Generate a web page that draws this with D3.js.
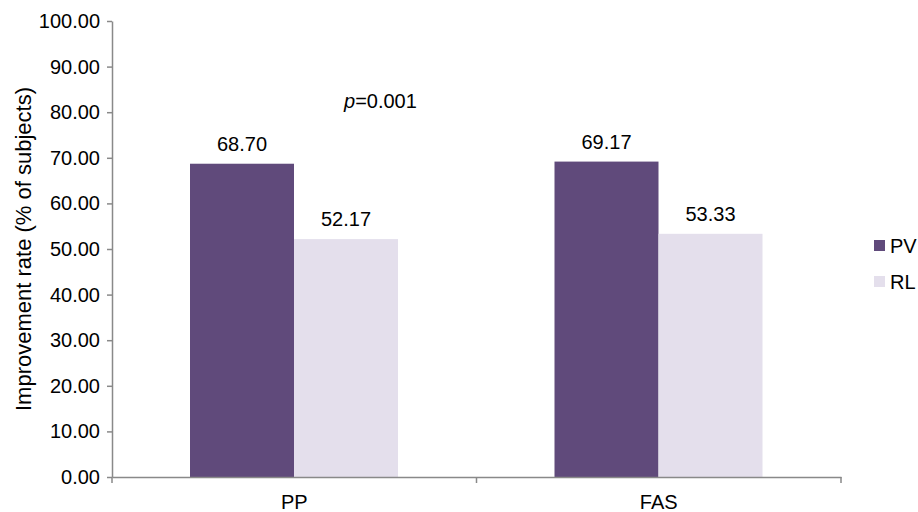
<!DOCTYPE html>
<html>
<head>
<meta charset="utf-8">
<script src="https://cdn.jsdelivr.net/npm/d3@7"></script>
<style>
  html, body { margin: 0; padding: 0; background: #fff; }
  svg text { font-family: "Liberation Sans", Arial, sans-serif; fill: #000; }
</style>
</head>
<body>
<svg id="chart" width="918" height="512"></svg>
<script>
const categories = ["PP", "FAS"];
const seriesNames = ["PV", "RL"];
const pvValues = [68.70, 69.17];
const rlValues = [52.17, 53.33];
const yTicks = [0, 10, 20, 30, 40, 50, 60, 70, 80, 90, 100];
const yTitle = "Improvement rate (% of subjects)";
const pLabel = ["p", "=0.001"];
const colors = { PV: "#604a7b", RL: "#e4dfec" };
const axisColor = "#898989";

const seriesValues = { PV: pvValues, RL: rlValues };
const svg = d3.select("#chart");

const y = d3.scaleLinear().domain([0, 100]).range([477, 21]);
const x = d3.scaleBand().domain(categories).range([112, 841]).padding(0);
const xs = d3.scaleBand().domain(seriesNames).range([78, 286]).padding(0);

// bars
const data = [];
categories.forEach((c, i) => seriesNames.forEach(s => data.push({ c, s, v: seriesValues[s][i] })));

svg.append("g").selectAll("rect").data(data).join("rect")
  .attr("x", d => x(d.c) + xs(d.s))
  .attr("y", d => y(d.v))
  .attr("width", xs.bandwidth())
  .attr("height", d => y(0) - y(d.v))
  .attr("fill", d => colors[d.s]);

// value labels
svg.append("g").selectAll("text").data(data).join("text")
  .attr("x", d => x(d.c) + xs(d.s) + xs.bandwidth() / 2)
  .attr("y", d => y(d.v) - 13)
  .attr("text-anchor", "middle")
  .style("font-size", "20px")
  .text(d => d.v.toFixed(2));

// y axis
const yAxis = svg.append("g").attr("transform", "translate(112,0)")
  .call(d3.axisLeft(y).tickValues(yTicks).tickFormat(d3.format(".2f")).tickSize(5).tickPadding(7).tickSizeOuter(0));
yAxis.select(".domain").attr("stroke", axisColor).attr("stroke-width", 1.5);
yAxis.selectAll(".tick line").attr("stroke", axisColor).attr("stroke-width", 1.5);
yAxis.selectAll(".tick text").style("font-size", "20px").style("font-family", "Liberation Sans, Arial, sans-serif").attr("fill", "#000");

// x axis
const xAxis = svg.append("g").attr("transform", "translate(0,477)")
  .call(d3.axisBottom(x).tickSize(0).tickPadding(18).tickSizeOuter(0));
xAxis.select(".domain").attr("stroke", axisColor).attr("stroke-width", 1.5);
xAxis.selectAll(".tick text").style("font-size", "20px").style("font-family", "Liberation Sans, Arial, sans-serif").attr("fill", "#000");
const bounds = [x.range()[0]].concat(categories.map(c => x(c) + x.bandwidth()));
xAxis.selectAll("line.bound").data(bounds).join("line").attr("class", "bound")
  .attr("x1", d => d).attr("x2", d => d).attr("y1", 0).attr("y2", 6)
  .attr("stroke", axisColor).attr("stroke-width", 1.5);

// y title
svg.append("text")
  .attr("transform", `translate(31,${(y(0) + y(100)) / 2}) rotate(-90)`)
  .attr("text-anchor", "middle")
  .style("font-size", "22px")
  .text(yTitle);

// p value
const pt = svg.append("text").attr("x", 344).attr("y", 108).style("font-size", "20px");
pt.append("tspan").style("font-style", "italic").text(pLabel[0]);
pt.append("tspan").text(pLabel[1]);

// legend
const lg = svg.append("g").selectAll("g").data(seriesNames).join("g")
  .attr("transform", (d, i) => `translate(874,${240 + i * 36})`);
lg.append("rect").attr("width", 11).attr("height", 11).attr("fill", d => colors[d]);
lg.append("text").attr("x", 16).attr("y", 12.5).style("font-size", "20px").text(d => d);
</script>
</body>
</html>
